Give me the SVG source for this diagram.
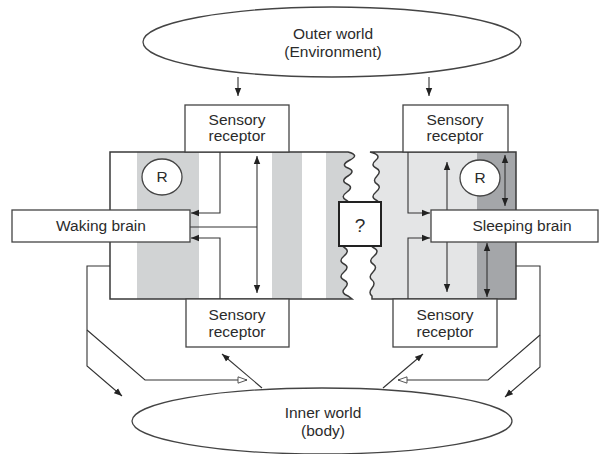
<svg xmlns="http://www.w3.org/2000/svg" width="599" height="454" viewBox="0 0 599 454">
<style>
.t{font-family:"Liberation Sans",Arial,sans-serif;font-size:15.5px;fill:#2b2b2b;text-anchor:middle}
.box{fill:#fff;stroke:#444;stroke-width:1.3}
.ln{fill:none;stroke:#333;stroke-width:1.1}
.out{fill:none;stroke:#3a3a3a;stroke-width:1.5}
</style>
<defs>
<marker id="ah" viewBox="0 0 10 10" refX="10" refY="5" markerWidth="8" markerHeight="8" markerUnits="userSpaceOnUse" orient="auto-start-reverse"><path d="M0,1 L10,5 L0,9 Z" fill="#222"/></marker>
<marker id="oh" viewBox="0 0 12 10" refX="11" refY="5" markerWidth="11" markerHeight="9" markerUnits="userSpaceOnUse" orient="auto"><path d="M1,1.5 L11,5 L1,8.5 Z" fill="#fff" stroke="#444" stroke-width="1"/></marker>
<path id="lp" d="M110,152 L348,152 Q360,155 350,160 T348,168 T348,176 T347,184 T347,192 T346,200 T346,208 T346,216 T346,224 T345,232 T345,240 T345,248 T344,256 T344,264 T344,272 T344,280 T345,288 T348,296 L352,299 L110,299 Z"/>
<path id="rp" d="M370,152 Q382,155 376,160 T376,168 T377,176 T377,184 T376,192 T376,200 T376,208 T375,216 T375,224 T375,232 T374,240 T374,248 T374,256 T373,264 T373,272 T372,280 T372,288 T372,296 L372,299 L516,299 L516,152 Z"/>
<clipPath id="lc"><use href="#lp"/></clipPath>
</defs>

<g id="outer-world">
<ellipse cx="332" cy="42" rx="189" ry="35" class="box"/>
<text class="t" x="333" y="39">Outer world</text>
<text class="t" x="333" y="57">(Environment)</text>
</g>

<g id="inner-world">
<ellipse cx="322" cy="421" rx="190" ry="33" class="box"/>
<text class="t" x="323" y="418">Inner world</text>
<text class="t" x="323" y="436">(body)</text>
</g>

<g id="waking-panel">
<use href="#lp" fill="#fff"/>
<g clip-path="url(#lc)" fill="#d1d3d4">
<rect x="137" y="150" width="62" height="152"/>
<rect x="272" y="150" width="30" height="152"/>
<rect x="326" y="150" width="40" height="152"/>
</g>
<use href="#lp" class="out"/>
</g>

<g id="sleeping-panel">
<use href="#rp" fill="#e4e5e6"/>
<rect x="477" y="152" width="39" height="147" fill="#a4a6a9"/>
<use href="#rp" class="out"/>
</g>

<g id="receptor-top-left">
<rect x="185" y="105" width="104" height="47" class="box"/>
<text class="t" x="237" y="125">Sensory</text>
<text class="t" x="237" y="141">receptor</text>
</g>
<g id="receptor-top-right">
<rect x="403" y="105" width="105" height="47" class="box"/>
<text class="t" x="455" y="125">Sensory</text>
<text class="t" x="455" y="141">receptor</text>
</g>
<g id="receptor-bottom-left">
<rect x="186" y="299" width="103" height="48" class="box"/>
<text class="t" x="237" y="320">Sensory</text>
<text class="t" x="237" y="337">receptor</text>
</g>
<g id="receptor-bottom-right">
<rect x="393" y="299" width="104" height="48" class="box"/>
<text class="t" x="445" y="320">Sensory</text>
<text class="t" x="445" y="337">receptor</text>
</g>

<g id="connectors">
<line x1="238" y1="77" x2="238" y2="96" class="ln" marker-end="url(#ah)"/>
<line x1="429" y1="77" x2="429" y2="96" class="ln" marker-end="url(#ah)"/>
<polyline points="220,152 220,213 191,213" class="ln" marker-end="url(#ah)"/>
<polyline points="220,299 220,238 191,238" class="ln" marker-end="url(#ah)"/>
<line x1="190" y1="227" x2="257" y2="227" class="ln"/>
<line x1="257" y1="156" x2="257" y2="293" class="ln" marker-start="url(#ah)" marker-end="url(#ah)"/>
<polyline points="408,152 408,213 430,213" class="ln" marker-end="url(#ah)"/>
<polyline points="408,299 408,238 430,238" class="ln" marker-end="url(#ah)"/>
<line x1="447" y1="162" x2="447" y2="292" class="ln" marker-start="url(#ah)" marker-end="url(#ah)"/>
<line x1="505" y1="155" x2="505" y2="206" class="ln" marker-start="url(#ah)" marker-end="url(#ah)"/>
<line x1="487" y1="243" x2="487" y2="297" class="ln" marker-start="url(#ah)" marker-end="url(#ah)"/>
<polyline points="110,266 87,266 87,366 122,396" class="ln" marker-end="url(#ah)"/>
<polyline points="87,330 145,380 247,380" class="ln" marker-end="url(#oh)"/>
<line x1="262" y1="388" x2="222" y2="354" class="ln" marker-end="url(#ah)"/>
<polyline points="516,266 540,266 540,367 505,397" class="ln" marker-end="url(#ah)"/>
<polyline points="540,335 488,380 398,380" class="ln" marker-end="url(#oh)"/>
<line x1="383" y1="388" x2="423" y2="354" class="ln" marker-end="url(#ah)"/>
</g>

<g id="waking-brain">
<rect x="12" y="210" width="178" height="32" class="box"/>
<text class="t" x="101" y="231">Waking brain</text>
</g>
<g id="sleeping-brain">
<rect x="431" y="210" width="167" height="32" class="box"/>
<text class="t" x="522" y="231">Sleeping brain</text>
</g>

<g id="r-left">
<ellipse cx="162" cy="177" rx="20" ry="18" class="box"/>
<text class="t" x="162" y="182">R</text>
</g>
<g id="r-right">
<ellipse cx="480" cy="178" rx="20" ry="18" class="box"/>
<text class="t" x="480" y="183">R</text>
</g>

<g id="question">
<rect x="339" y="202" width="42" height="44" fill="#fff" stroke="#222" stroke-width="2"/>
<text class="t" x="360" y="232" style="font-size:19px">?</text>
</g>
</svg>
